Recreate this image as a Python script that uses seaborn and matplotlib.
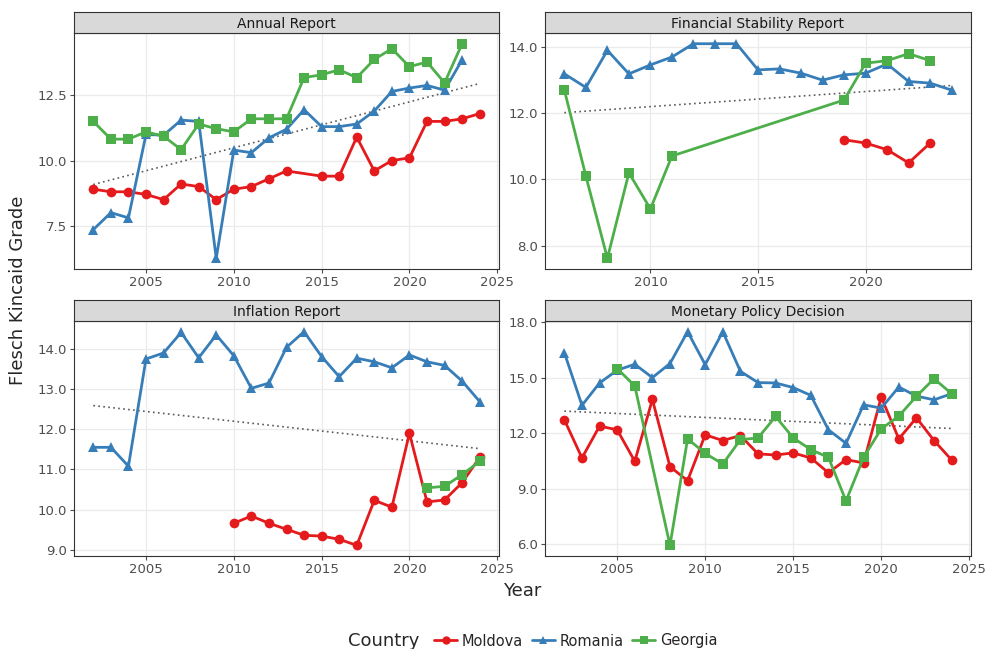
import pandas as pd
import numpy as np
import matplotlib
matplotlib.use("Agg")
import matplotlib.pyplot as plt
from matplotlib.ticker import MultipleLocator, FormatStrFormatter
from matplotlib.lines import Line2D
import seaborn as sns

# ----------------------------
# Data
# ----------------------------
countries = ["Moldova", "Romania", "Georgia"]
panels = ["Annual Report", "Financial Stability Report", "Inflation Report", "Monetary Policy Decision"]

# Annual Report
ar_md_years = [2002, 2003, 2004, 2005, 2006, 2007, 2008, 2009, 2010, 2011, 2012, 2013,
               2015, 2016, 2017, 2018, 2019, 2020, 2021, 2022, 2023, 2024]
ar_md_vals = [8.9, 8.8, 8.8, 8.7, 8.5, 9.1, 9.0, 8.5, 8.9, 9.0, 9.3, 9.6,
              9.4, 9.4, 10.9, 9.6, 10.0, 10.1, 11.5, 11.5, 11.6, 11.8]
ar_ro_years = list(range(2002, 2024))
ar_ro_vals = [7.35, 8.0, 7.8, 11.0, 10.97, 11.55, 11.5, 6.25, 10.4, 10.3, 10.87, 11.2,
              11.95, 11.3, 11.3, 11.4, 11.9, 12.65, 12.78, 12.88, 12.7, 13.86]
ar_ge_years = list(range(2002, 2024))
ar_ge_vals = [11.5, 10.82, 10.82, 11.1, 10.93, 10.42, 11.4, 11.22, 11.1, 11.6, 11.6, 11.6,
              13.18, 13.29, 13.48, 13.18, 13.88, 14.29, 13.6, 13.78, 12.98, 14.48]

# Financial Stability Report
fsr_md_years = [2019, 2020, 2021, 2022, 2023]
fsr_md_vals = [11.2, 11.1, 10.9, 10.5, 11.1]
fsr_ro_years = list(range(2006, 2025))
fsr_ro_vals = [13.19, 12.78, 13.9, 13.19, 13.46, 13.7, 14.1, 14.1, 14.1, 13.31,
               13.34, 13.21, 13.0, 13.16, 13.21, 13.49, 12.96, 12.91, 12.7]
fsr_ge_years = [2006, 2007, 2008, 2009, 2010, 2011, 2019, 2020, 2021, 2022, 2023]
fsr_ge_vals = [12.7, 10.1, 7.62, 10.2, 9.11, 10.71, 12.4, 13.51, 13.59, 13.8, 13.59]

# Inflation Report
ir_md_years = list(range(2010, 2025))
ir_md_vals = [9.66, 9.84, 9.66, 9.51, 9.36, 9.34, 9.26, 9.11, 10.23, 10.06,
              11.9, 10.19, 10.24, 10.67, 11.3]
ir_ro_years = list(range(2002, 2025))
ir_ro_vals = [11.55, 11.55, 11.08, 13.75, 13.9, 14.41, 13.78, 14.35, 13.83, 13.02, 13.15,
              14.04, 14.43, 13.81, 13.31, 13.77, 13.68, 13.53, 13.85, 13.68, 13.59, 13.2, 12.69]
ir_ge_years = [2021, 2022, 2023, 2024]
ir_ge_vals = [10.54, 10.58, 10.87, 11.2]

# Monetary Policy Decision
mpd_md_years = list(range(2002, 2025))
mpd_md_vals = [12.72, 10.66, 12.38, 12.18, 10.48, 13.82, 10.19, 9.43, 11.91, 11.6, 11.87,
               10.88, 10.82, 10.93, 10.66, 9.86, 10.57, 10.39, 13.95, 11.69, 12.83, 11.6, 10.55]
mpd_ro_years = list(range(2002, 2025))
mpd_ro_vals = [16.35, 13.5, 14.71, 15.4, 15.72, 15.0, 15.76, 17.48, 15.7, 17.48, 15.34,
               14.73, 14.71, 14.46, 14.04, 12.18, 11.45, 13.53, 13.35, 14.49, 14.0, 13.8, 14.13]
mpd_ge_years = [2005, 2006] + list(range(2008, 2025))
mpd_ge_vals = [15.49, 14.55, 5.94, 11.69, 10.91, 10.33, 11.65, 11.74, 12.9, 11.74,
               11.11, 10.69, 8.34, 10.69, 12.23, 12.92, 13.99, 14.94, 14.13]

series = {
    "Annual Report": [(ar_md_years, ar_md_vals), (ar_ro_years, ar_ro_vals), (ar_ge_years, ar_ge_vals)],
    "Financial Stability Report": [(fsr_md_years, fsr_md_vals), (fsr_ro_years, fsr_ro_vals), (fsr_ge_years, fsr_ge_vals)],
    "Inflation Report": [(ir_md_years, ir_md_vals), (ir_ro_years, ir_ro_vals), (ir_ge_years, ir_ge_vals)],
    "Monetary Policy Decision": [(mpd_md_years, mpd_md_vals), (mpd_ro_years, mpd_ro_vals), (mpd_ge_years, mpd_ge_vals)],
}

rows = []
for p in panels:
    for c, (yrs, vals) in zip(countries, series[p]):
        for y, v in zip(yrs, vals):
            rows.append({"panel": p, "Country": c, "Year": y, "Grade": v})
df = pd.DataFrame(rows)

# ----------------------------
# Style
# ----------------------------
sns.set_theme(style="white")
plt.rcParams["font.family"] = ["DejaVu Sans"]

palette = {"Moldova": "#E41A1C", "Romania": "#377EB8", "Georgia": "#4DAF4A"}
markers = {"Moldova": "o", "Romania": "^", "Georgia": "s"}

fig = plt.figure(figsize=(9.87, 6.49), dpi=100)

W, H = 987, 649
# panel boxes in pixels: left, top, right, bottom
boxes = {
    "Annual Report": (74, 33, 499, 269),
    "Financial Stability Report": (545, 33, 971, 269),
    "Inflation Report": (74, 321, 499, 556),
    "Monetary Policy Decision": (545, 321, 971, 556),
}
ysteps = {"Annual Report": 2.5, "Financial Stability Report": 2.0,
          "Inflation Report": 1.0, "Monetary Policy Decision": 3.0}
strip_h = 21

for p in panels:
    l, t, r, b = boxes[p]
    ax = fig.add_axes([l / W, 1 - b / H, (r - l) / W, (b - t) / H])
    sax = fig.add_axes([l / W, 1 - t / H, (r - l) / W, strip_h / H])
    sax.set_facecolor("#D9D9D9")
    sax.set_xticks([])
    sax.set_yticks([])
    for s in sax.spines.values():
        s.set_color("#333333")
        s.set_linewidth(0.8)
    sax.text(0.5, 0.45, p, ha="center", va="center", fontsize=10, color="#1A1A1A",
             transform=sax.transAxes)

    sub = df[df["panel"] == p]
    ax.grid(True, color="#EBEBEB", linewidth=0.9)
    ax.set_axisbelow(True)
    sns.regplot(x="Year", y="Grade", data=sub, scatter=False, ci=None, ax=ax,
                color="#5A5A5A", line_kws=dict(ls=(0, (1, 2)), lw=1.2))
    sns.lineplot(x="Year", y="Grade", data=sub, hue="Country", style="Country",
                 hue_order=countries, style_order=countries, palette=palette,
                 markers=markers, dashes=False, lw=2.0, markersize=7,
                 markeredgewidth=0, ax=ax, legend=False, sort=True)
    ax.xaxis.set_major_locator(MultipleLocator(5))
    ax.yaxis.set_major_locator(MultipleLocator(ysteps[p]))
    ax.yaxis.set_major_formatter(FormatStrFormatter("%.1f"))
    ax.margins(x=0.05, y=0.05)
    ax.set_xlabel("")
    ax.set_ylabel("")
    ax.tick_params(axis="both", labelsize=9.5, colors="#4D4D4D", length=3,
                   width=0.8, bottom=True, left=True, pad=2)
    for s in ax.spines.values():
        s.set_color("#333333")
        s.set_linewidth(0.8)

fig.text(522 / W, 1 - 591 / H, "Year", ha="center", va="center", fontsize=13)
fig.text(18 / W, 1 - 290 / H, "Flesch Kincaid Grade", ha="center", va="center",
         fontsize=13, rotation=90)

handles = [Line2D([0], [0], color=palette[c], marker=markers[c], lw=2, markersize=6,
                  markeredgewidth=0) for c in countries]
fig.text(384 / W, 1 - 641 / H, "Country", ha="center", va="center", fontsize=13)
fig.legend(handles, countries, loc="center left", bbox_to_anchor=(428 / W, 1 - 641 / H),
           ncol=3, frameon=False, fontsize=10.5, handlelength=1.6, handletextpad=0.3,
           columnspacing=0.6, borderaxespad=0)

plt.savefig("out.png", dpi=100)
plt.close()
